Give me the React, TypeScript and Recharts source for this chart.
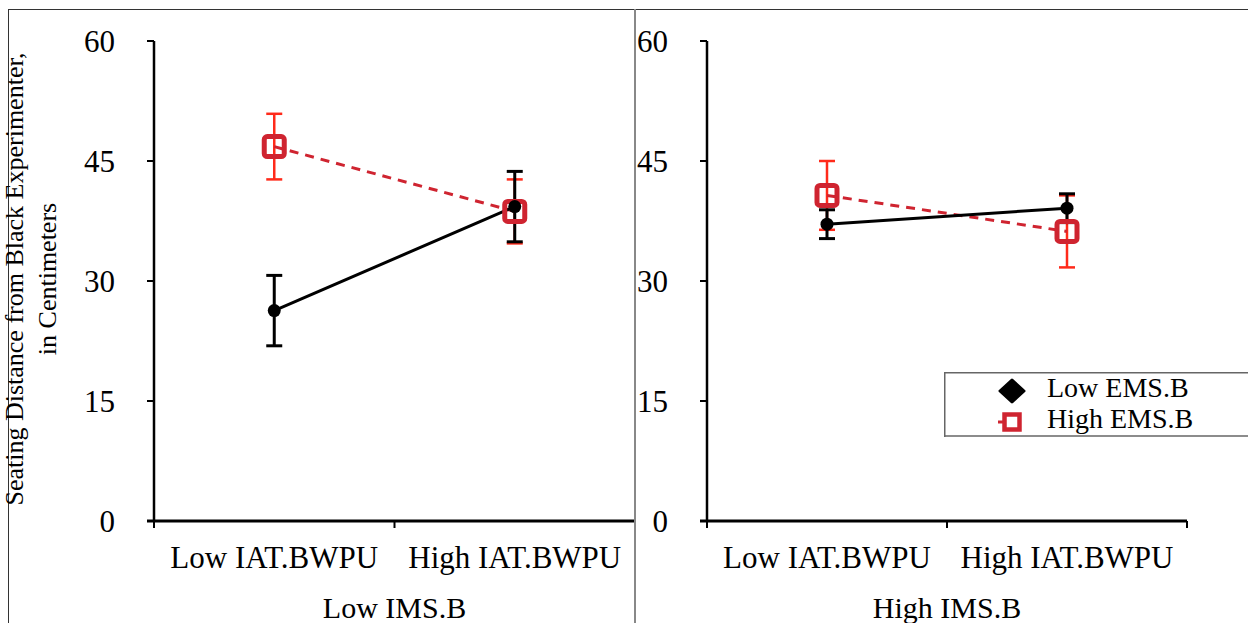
import { LineChart, Line, XAxis, YAxis, ErrorBar, Legend, Label } from "recharts";

const categories = ["Low IAT.BWPU", "High IAT.BWPU"];
const categoryPositions = [0.5, 1.5];
const xTicks = [0, 0.5, 1, 1.5, 2];
const panelTitles = ["Low IMS.B", "High IMS.B"];
const seriesNames = ["Low EMS.B", "High EMS.B"];
const yTicks = [0, 15, 30, 45, 60];

// Low IMS.B panel
const lowImsLowEms = [26.3, 39.3];
const lowImsLowEmsErr = [4.4, 4.4];
const lowImsHighEms = [46.8, 38.7];
const lowImsHighEmsErr = [4.1, 4.0];

// High IMS.B panel
const highImsLowEms = [37.1, 39.1];
const highImsLowEmsErr = [1.8, 1.8];
const highImsHighEms = [40.7, 36.2];
const highImsHighEmsErr = [4.3, 4.5];

const FONT = '"Liberation Serif", "Times New Roman", serif';
const RED = "#cf2430";
const RED_ERR = "#ff2a1a";

const buildRows = (low: number[], lowErr: number[], high: number[], highErr: number[]) =>
  categories.map((name, i) => ({
    name,
    x: categoryPositions[i],
    low: low[i],
    lowErr: lowErr[i],
    high: high[i],
    highErr: highErr[i],
  }));

const leftData = buildRows(lowImsLowEms, lowImsLowEmsErr, lowImsHighEms, lowImsHighEmsErr);
const rightData = buildRows(highImsLowEms, highImsLowEmsErr, highImsHighEms, highImsHighEmsErr);

// category labels sit between the tick marks, like the original
const XTick = (props: any) => {
  const { x, y, payload } = props;
  const idx = categoryPositions.indexOf(payload.value);
  if (idx >= 0) {
    return (
      <text x={x} y={y + 47} textAnchor="middle" fontFamily={FONT} fontSize={31} fill="#000">
        {categories[idx]}
      </text>
    );
  }
  return (
    <g>
      <line x1={x} y1={y} x2={x} y2={y + 7} stroke="#000" strokeWidth={2} />
      {payload.value === 0 && <line x1={x - 7} y1={y} x2={x} y2={y} stroke="#000" strokeWidth={3} />}
    </g>
  );
};

const YLabel = (props: any) => {
  const vb = props.viewBox;
  const cy = vb.y + vb.height / 2 - 2;
  return (
    <g fontFamily={FONT} fontSize={26} fill="#000">
      <text transform={`translate(23, ${cy}) rotate(-90)`} textAnchor="middle">
        Seating Distance from Black Experimenter,
      </text>
      <text transform={`translate(56, ${cy}) rotate(-90)`} textAnchor="middle">
        in Centimeters
      </text>
    </g>
  );
};

const groupLabel = (title: string) => (props: any) => {
  const vb = props.viewBox;
  return (
    <text x={vb.x + vb.width / 2} y={vb.y + 97} textAnchor="middle" fontFamily={FONT} fontSize={30} fill="#000">
      {title}
    </text>
  );
};

const CircleDot = (props: any) => (
  <circle key={`c-${props.index}`} cx={props.cx} cy={props.cy} r={6.5} fill="#000" />
);

const SquareDot = (props: any) => (
  <rect
    key={`s-${props.index}`}
    x={props.cx - 10}
    y={props.cy - 10}
    width={20}
    height={20}
    rx={3}
    fill="none"
    stroke={RED}
    strokeWidth={5}
  />
);

const LegendBox = () => (
  <svg width={330} height={65} style={{ display: "block" }}>
    <line x1={0.75} y1={0.75} x2={330} y2={0.75} stroke="#666" strokeWidth={1.5} />
    <line x1={0.75} y1={64} x2={330} y2={64} stroke="#666" strokeWidth={1.5} />
    <line x1={0.75} y1={0} x2={0.75} y2={65} stroke="#666" strokeWidth={1.5} />
    <polygon points="68,8 80,19 68,30 56,19" fill="#000" stroke="#000" strokeWidth={3} strokeLinejoin="round" />
    <line x1={54} y1={50} x2={60} y2={50} stroke={RED} strokeWidth={3} />
    <rect x={60.5} y={42.5} width={15} height={15} fill="none" stroke={RED} strokeWidth={4.5} />
    <text x={103} y={25} fontFamily={FONT} fontSize={28} fill="#000">{seriesNames[0]}</text>
    <text x={103} y={56} fontFamily={FONT} fontSize={28} fill="#000">{seriesNames[1]}</text>
  </svg>
);

const Panel = ({ data, title, width, yWidth, marginRight, withYLabel, withLegend }: any) => (
  <LineChart width={width} height={623} data={data} margin={{ top: 41, right: marginRight, bottom: 0, left: 0 }}>
    <XAxis
      dataKey="x"
      type="number"
      domain={[0, 2]}
      ticks={xTicks}
      interval={0}
      height={102}
      tickSize={0}
      tickMargin={0}
      tickLine={false}
      tick={<XTick />}
      axisLine={{ stroke: "#000", strokeWidth: 3 }}
    >
      <Label content={groupLabel(title)} />
    </XAxis>
    <YAxis
      type="number"
      domain={[0, 60]}
      ticks={yTicks}
      interval={0}
      width={yWidth}
      tickSize={7}
      tickMargin={32}
      tick={{ fontFamily: FONT, fontSize: 31, fill: "#000" }}
      tickLine={{ stroke: "#000", strokeWidth: 2 }}
      axisLine={{ stroke: "#000", strokeWidth: 2.5 }}
    >
      {withYLabel && <Label content={YLabel} />}
    </YAxis>
    {withLegend && (
      <Legend
        layout="horizontal"
        verticalAlign="middle"
        align="center"
        content={() => <LegendBox />}
        wrapperStyle={{ left: 309, top: 372, width: 330, height: 65 }}
      />
    )}
    <Line
      dataKey="high"
      name={seriesNames[1]}
      stroke={RED}
      strokeWidth={3}
      strokeDasharray="9 7"
      dot={SquareDot}
      activeDot={false}
      isAnimationActive={false}
    >
      <ErrorBar dataKey="highErr" width={8} stroke={RED_ERR} strokeWidth={2.5} direction="y" isAnimationActive={false} />
    </Line>
    <Line
      dataKey="low"
      name={seriesNames[0]}
      stroke="#000"
      strokeWidth={3}
      dot={CircleDot}
      activeDot={false}
      isAnimationActive={false}
    >
      <ErrorBar dataKey="lowErr" width={8} stroke="#000" strokeWidth={3} direction="y" isAnimationActive={false} />
    </Line>
  </LineChart>
);

export default function App() {
  return (
    <div style={{ position: "absolute", left: 0, top: 0, width: 1248, height: 623, overflow: "hidden", background: "#fff" }}>
      <div
        style={{
          position: "absolute",
          left: 8,
          top: 9,
          width: 1400,
          height: 800,
          borderLeft: "1.5px solid #333",
          borderTop: "1.5px solid #333",
        }}
      />
      <div style={{ position: "absolute", left: 0, top: 0 }}>
        <Panel data={leftData} title={panelTitles[0]} width={635} yWidth={154} marginRight={0} withYLabel />
      </div>
      <div style={{ position: "absolute", left: 635, top: 0 }}>
        <Panel data={rightData} title={panelTitles[1]} width={613} yWidth={72} marginRight={61} withLegend />
      </div>
      <div style={{ position: "absolute", left: 634, top: 9, width: 1.5, height: 620, background: "#888" }} />
    </div>
  );
}
